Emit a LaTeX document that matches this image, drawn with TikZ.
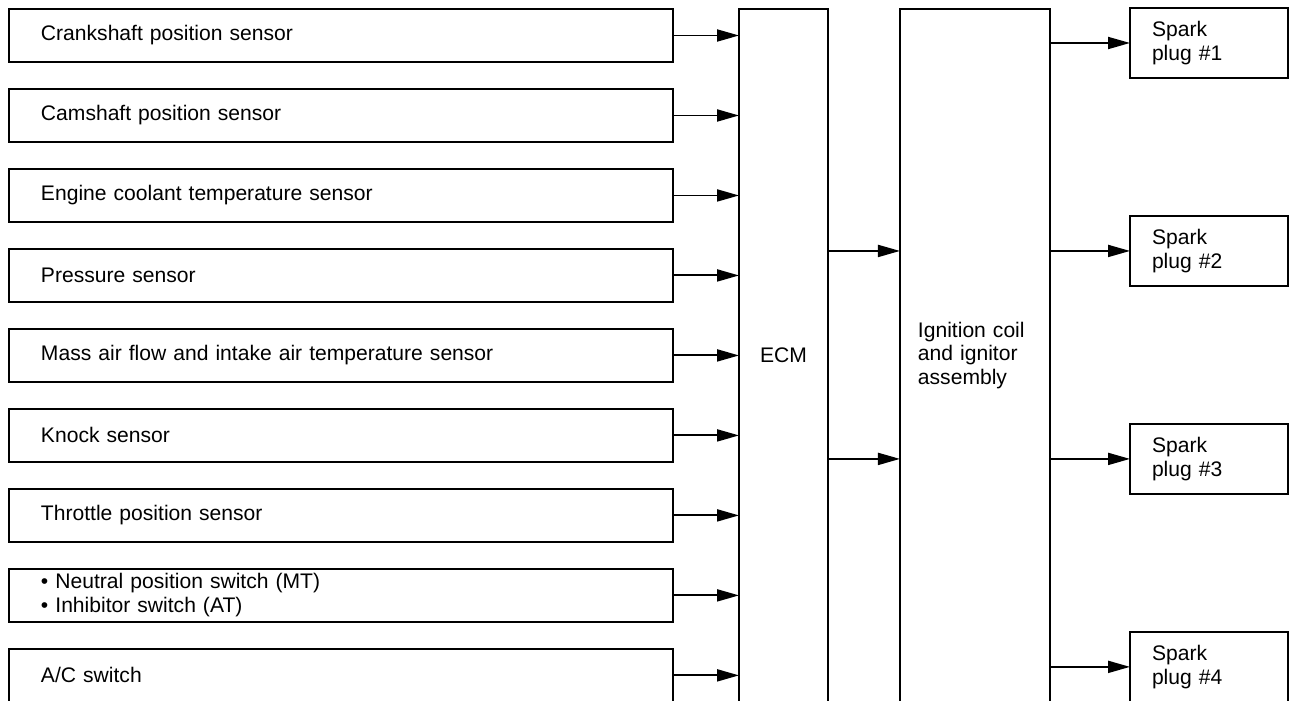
\documentclass[tikz,border=0pt]{standalone}
\usepackage{fontspec}
\setmainfont{Liberation Sans}
\usetikzlibrary{positioning,arrows.meta}

\begin{document}
\begin{tikzpicture}[x=0.02cm, y=-0.02cm, node distance=0.54cm, every node/.style={font=\fontsize{12}{13.5}\selectfont}, sensor/.style={draw, line width=1.1pt, outer sep=0pt, minimum height=1.06cm, text width=12cm, inner xsep=0.64cm, inner ysep=2pt, align=left}, unit/.style={draw, line width=1.1pt, outer sep=0pt, minimum height=13.86cm, align=center}, plug/.style={draw, line width=1.1pt, outer sep=0pt, minimum height=1.4cm, text width=2.28cm, inner xsep=0.44cm, align=left}, arr/.style={-{Triangle[length=0.44cm,width=0.24cm]}, line width=1.1pt}]
\useasboundingbox (0,0) rectangle (1290,700);
\clip (0,0) rectangle (1290,700);
\node[sensor, anchor=north west] (crank) at (9,9) {Crankshaft position sensor};
\node[sensor, below=of crank] (cam) {Camshaft position sensor};
\node[sensor, below=of cam] (ect) {Engine coolant temperature sensor};
\node[sensor, below=of ect] (press) {Pressure sensor};
\node[sensor, below=of press] (maf) {Mass air flow and intake air temperature sensor};
\node[sensor, below=of maf] (knock) {Knock sensor};
\node[sensor, below=of knock] (tps) {Throttle position sensor};
\node[sensor, below=of tps] (nps) {\textbullet\ Neutral position switch (MT)\\\textbullet\ Inhibitor switch (AT)};
\node[sensor, below=of nps] (ac) {A/C switch};
\node[unit, minimum width=1.78cm, anchor=north west] (ecm) at (739,9) {ECM};
\node[unit, minimum width=3cm, text width=2.28cm, inner xsep=0.36cm, align=left, right=1.44cm of ecm] (ign) {Ignition coil\\and ignitor\\assembly};
\node[plug, anchor=north west] (sp1) at (1130,8) {Spark\\plug \#1};
\node[plug, below=2.76cm of sp1] (sp2) {Spark\\plug \#2};
\node[plug, below=2.76cm of sp2] (sp3) {Spark\\plug \#3};
\node[plug, below=2.76cm of sp3] (sp4) {Spark\\plug \#4};
% sensor inputs
\foreach \s in {crank,cam,ect,press,maf,knock,tps,nps,ac}
  \draw[arr] (\s.east) -- (\s.east -| ecm.west);
\draw[arr] (ecm.east |- sp2.west) -- (ign.west |- sp2.west);
\draw[arr] (ecm.east |- sp3.west) -- (ign.west |- sp3.west);
% spark outputs
\foreach \p in {sp1,sp2,sp3,sp4}
  \draw[arr] (ign.east |- \p.west) -- (\p.west);
\end{tikzpicture}
\end{document}
